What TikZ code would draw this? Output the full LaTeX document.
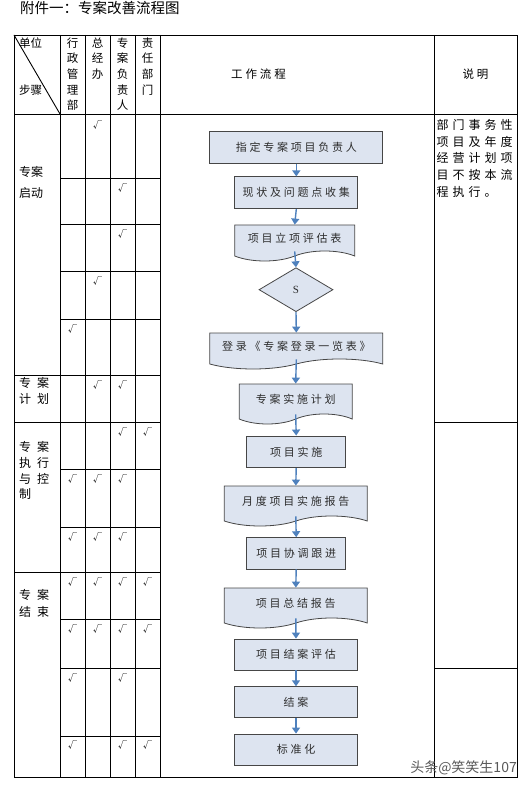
\documentclass[tikz,border=0pt]{standalone}
\usepackage{fontspec}
\setmainfont{Noto Sans CJK SC}
\newfontfamily\flowfont[LetterSpace=25]{Noto Sans CJK SC}
\newfontfamily\notefont[LetterSpace=33]{Noto Sans CJK SC}
\newfontfamily\latinfont{Liberation Serif}
\usetikzlibrary{shapes,shapes.symbols,arrows.meta}
\definecolor{boxfill}{RGB}{221,228,240}
\definecolor{boxline}{RGB}{70,70,70}
\definecolor{arrowblue}{RGB}{79,129,189}
\definecolor{flowtext}{RGB}{45,45,45}
\tikzstyle{grid}=[line width=.9pt,black]
\tikzstyle{chk}=[font=\fontsize{9}{9}\selectfont,inner sep=0pt]
\tikzstyle{lbl}=[inner sep=0pt,align=left,anchor=west]
\tikzstyle{colhead}=[inner sep=0pt,align=center,anchor=north,font=\fontsize{11.5}{15.6}\selectfont]
\tikzstyle{box}=[rectangle,draw=boxline,fill=boxfill,line width=.8pt,font=\flowfont\fontsize{11}{11}\selectfont,text=flowtext,inner sep=0pt]
\tikzstyle{docbox}=[box,tape,tape bend top=none,tape bend bottom=in and out,tape bend height=10pt]
\tikzstyle{dec}=[box,diamond,aspect=1.7]
\tikzstyle{flow}=[-{Triangle[width=8pt,length=6pt]},arrowblue,line width=1.4pt]

\begin{document}
\begin{tikzpicture}[x=1pt,y=-1pt]
\useasboundingbox (0,0) rectangle (528,786);
\node[lbl,font=\fontsize{14.5}{14.5}\selectfont] (title) at (20,7.5) {附件一：专案改善流程图};
\draw[grid] (14,35) rectangle (517,777);
\foreach \x in {60,85,110,135,160,434} \draw[grid] (\x,35) -- (\x,777);
\draw[grid] (14,114) -- (517,114);
\foreach \y in {375,422,572} \draw[grid] (14,\y) -- (60,\y);
\foreach \y in {178,224,271,319,375,422,469,527,572,619,668,736} \draw[grid] (60,\y) -- (160,\y);
\foreach \y in {422,668} \draw[grid] (434,\y) -- (517,\y);
\draw[grid] (14,35) -- (60,114);
\node[lbl,font=\fontsize{11.5}{11.5}\selectfont] (unit) at (19,43) {单位};
\node[lbl,font=\fontsize{11.5}{11.5}\selectfont] (stepname) at (19,90) {步骤};
\node[colhead] (admin) at (72.5,37.5) {行\\政\\管\\理\\部};
\node[colhead] (gm) at (97.5,37.5) {总\\经\\办};
\node[colhead] (owner) at (122.5,37.5) {专\\案\\负\\责\\人};
\node[colhead] (dept) at (147.5,37.5) {责\\任\\部\\门};
\node[inner sep=0pt,font=\flowfont\fontsize{11.5}{11.5}\selectfont] (flowhead) at (258.5,74) {工作流程};
\node[inner sep=0pt,font=\flowfont\fontsize{11.5}{11.5}\selectfont] (notehead) at (475.5,74) {说明};
\node[lbl,font=\fontsize{12}{21.3}\selectfont] (start) at (19,182.4) {专案\\启动};
\node[lbl,font=\fontsize{12}{16}\selectfont] (plan) at (19,391) {专\enspace 案\\计\enspace 划};
\node[lbl,font=\fontsize{12}{15.7}\selectfont] (exec) at (19,470.8) {专\enspace 案\\执\enspace 行\\与\enspace 控\\制};
\node[lbl,font=\fontsize{12}{17}\selectfont] (close) at (19,603.5) {专\enspace 案\\结\enspace 束};
\node[inner sep=0pt,anchor=north west,align=left,font=\notefont\fontsize{12}{16.7}\selectfont] (note) at (436.5,119) {部门事务性\\项目及年度\\经营计划项\\目不按本流\\程执行。};
\foreach \cx/\cy in {97.5/125,122.5/188,122.5/234,97.5/281,72.5/329,97.5/385,122.5/385,122.5/432,147.5/432,72.5/479,97.5/479,122.5/479,72.5/537,97.5/537,122.5/537,72.5/582,97.5/582,122.5/582,147.5/582,72.5/629,97.5/629,122.5/629,147.5/629,72.5/678,122.5/678,72.5/745,122.5/745,147.5/745}
  \node[chk] at (\cx,\cy) {√};
\node[box,minimum width=173pt,minimum height=31.6pt] (assign) at (296.3,147.5) {指定专案项目负责人};
\node[box,minimum width=123pt,minimum height=32pt] (collect) at (296.3,192.8) {现状及问题点收集};
\node[docbox,minimum width=120pt,minimum height=36pt] (evalform) at (294.7,238) {项目立项评估表};
\node[dec,minimum width=74pt,minimum height=44pt] (review) at (296,289.7) {\latinfont S};
\node[docbox,minimum width=173pt,minimum height=36pt] (register) at (296.3,346) {登录《专案登录一览表》};
\node[docbox,minimum width=113pt,minimum height=40pt] (planform) at (295.7,399) {专案实施计划};
\node[box,minimum width=99pt,minimum height=31.7pt] (implement) at (296.2,451.8) {项目实施};
\node[docbox,minimum width=143pt,minimum height=40pt] (monthly) at (295.8,501) {月度项目实施报告};
\node[box,minimum width=99pt,minimum height=31.3pt] (follow) at (296.2,553.3) {项目协调跟进};
\node[docbox,minimum width=143pt,minimum height=40pt] (summary) at (295.8,603) {项目总结报告};
\node[box,minimum width=123.4pt,minimum height=31pt] (assess) at (296,654.5) {项目结案评估};
\node[box,minimum width=123.4pt,minimum height=31pt] (closing) at (296,702.2) {结案};
\node[box,minimum width=123.4pt,minimum height=31pt] (standard) at (296,749.5) {标准化};
\foreach \a/\b in {assign/collect,collect/evalform,evalform/review,review/register,register/planform,planform/implement,implement/monthly,monthly/follow,follow/summary,summary/assess,assess/closing,closing/standard}
  \draw[flow] (\a.south) -- (\b.north);
\node[inner sep=0pt,anchor=east,font=\fontsize{14}{14}\selectfont,text=black!65] (mark) at (517,768) {头条@笑笑生107};
\end{tikzpicture}
\end{document}
